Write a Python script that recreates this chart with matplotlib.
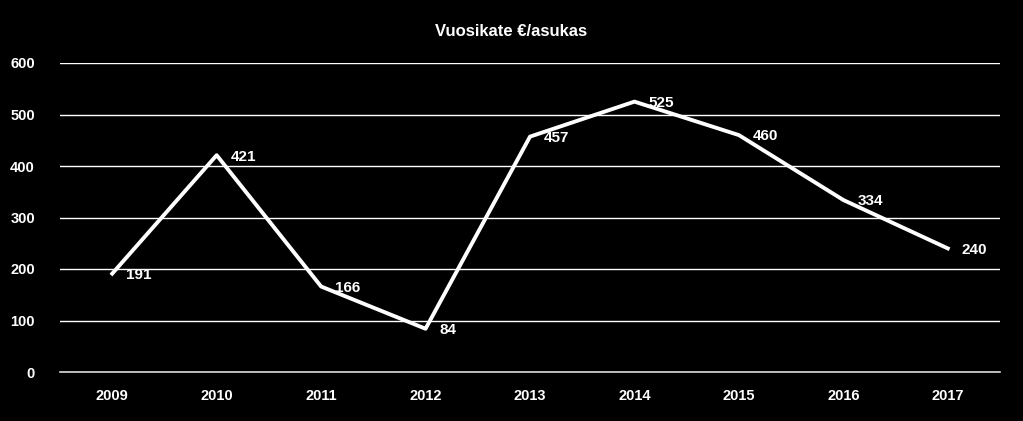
import matplotlib.pyplot as plt

years = ["2009", "2010", "2011", "2012", "2013", "2014", "2015", "2016", "2017"]
values = [191, 421, 166, 84, 457, 525, 460, 334, 240]
y_ticks = [0, 100, 200, 300, 400, 500, 600]

plt.rcParams['font.family'] = ['Liberation Sans', 'DejaVu Sans']
plt.rcParams['font.weight'] = 'bold'

fig = plt.figure(figsize=(10.23, 4.21), dpi=100, facecolor="black")
ax = fig.add_axes([60 / 1023, 49 / 421, 940 / 1023, 309 / 421], facecolor="black")

x = range(len(years))
ax.plot(x, values, color="white", linewidth=2.8, zorder=3)
for xi, v in zip(x, values):
    ax.annotate(str(v), (xi, v), xytext=(10, -1), textcoords="offset points",
                color="white", fontsize=11, fontweight="bold", va="center", ha="left")

ax.set_xlim(-0.5, len(years) - 0.5)
ax.set_ylim(0, 600)
ax.set_yticks(y_ticks)
ax.set_xticks(list(x))
ax.set_xticklabels(years)
ax.grid(axis="y", color="white", linewidth=1)
ax.set_axisbelow(True)
for s in ax.spines.values():
    s.set_visible(False)
ax.spines["bottom"].set_visible(True)
ax.spines["bottom"].set_color("#d9d9d9")
ax.spines["bottom"].set_linewidth(1.2)
ax.tick_params(colors="white", labelsize=10.5, length=0, pad=12)
for lab in ax.get_xticklabels() + ax.get_yticklabels():
    lab.set_fontweight("bold")
ax.tick_params(axis="y", pad=18)

fig.text(0.5, 1 - 32 / 421, "Vuosikate €/asukas", color="white", fontsize=12,
         fontweight="bold", ha="center", va="center")

fig.savefig("out.png", facecolor="black")
